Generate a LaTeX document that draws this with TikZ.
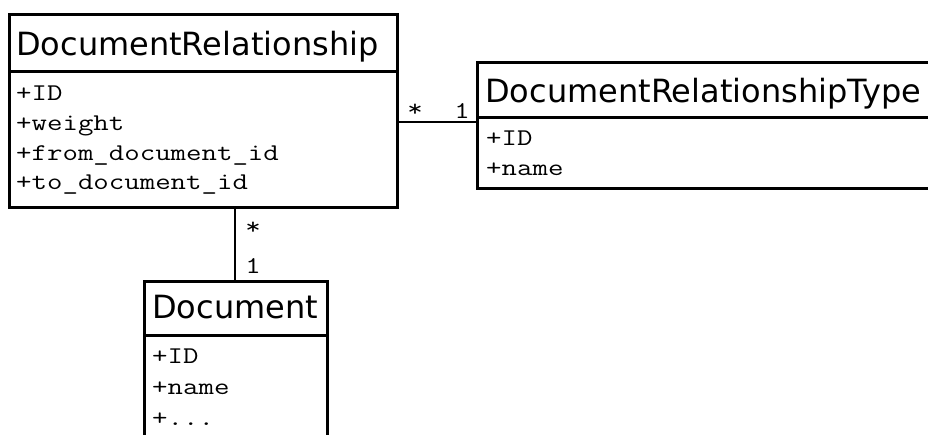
\documentclass[tikz,border=0pt]{standalone}
\usepackage{fontspec}
\usepackage{graphicx}
\newfontfamily\titlefont{DejaVu Sans}
\newcommand\attrtxt[1]{\scalebox{1.25}[1]{#1}}
\begin{document}
\begin{tikzpicture}[x=1pt,y=-1pt,
  box/.style={draw, line width=3pt, fill=white, inner sep=0pt, outer sep=0pt, anchor=north west},
  sepline/.style={line width=3pt},
  conn/.style={line width=2pt},
  title/.style={font=\titlefont\fontsize{32}{36}\selectfont, anchor=base west, inner sep=0pt},
  attr/.style={font=\ttfamily\fontsize{24}{28}\selectfont, anchor=base west, inner sep=0pt},
  mult/.style={font=\ttfamily\fontsize{24}{28}\selectfont, anchor=base, inner sep=0pt}]
\useasboundingbox (0,0) rectangle (928,434);
\clip (0,0) rectangle (928,434);
\fill[white] (0,0) rectangle (928,434);

% DocumentRelationship
\node[box, minimum width=387.5pt, minimum height=193pt] (dr) at (9.5,14) {};
\coordinate (drsep) at (0,71.5);
\draw[sepline] (dr.west |- drsep) -- (dr.east |- drsep);
\node[title] (drt0) at (16,55) {DocumentRelationship};
\node[attr] (dra1) at (16,100) {\attrtxt{+ID}};
\node[attr] (dra2) at (16,130) {\attrtxt{+weight}};
\node[attr] (dra3) at (16,160) {\attrtxt{+from\_document\_id}};
\node[attr] (dra4) at (16,189) {\attrtxt{+to\_document\_id}};

% DocumentRelationshipType
\node[box, minimum width=470pt, minimum height=126pt] (drt) at (477,62) {};
\coordinate (drtsep) at (0,117);
\draw[sepline] (drt.west |- drtsep) -- (drt.east |- drtsep);
\node[title] (drtt) at (485,102) {DocumentRelationshipType};
\node[attr] (drta1) at (486,145) {\attrtxt{+ID}};
\node[attr] (drta2) at (486,175) {\attrtxt{+name}};

% Document
\node[box, minimum width=183pt, minimum height=170pt] (doc) at (144,281) {};
\coordinate (docsep) at (0,335);
\draw[sepline] (doc.west |- docsep) -- (doc.east |- docsep);
\node[title] (doct) at (152,318) {Document};
\node[attr] (doca1) at (152,363) {\attrtxt{+ID}};
\node[attr] (doca2) at (152,394) {\attrtxt{+name}};
\node[attr] (doca3) at (152,425) {\attrtxt{+...}};

% connectors
\coordinate (c1) at (0,122);
\draw[conn] (dr.east |- c1) -- (drt.west |- c1);
\coordinate (c2) at (235,0);
\draw[conn] (dr.south -| c2) -- (doc.north -| c2);

% multiplicities
\node[mult] (m1) at (415,116) {\attrtxt{*}};
\node[mult] (m2) at (462,118) {\attrtxt{1}};
\node[mult] (m3) at (253,234) {\attrtxt{*}};
\node[mult] (m4) at (253,273) {\attrtxt{1}};
\end{tikzpicture}
\end{document}
